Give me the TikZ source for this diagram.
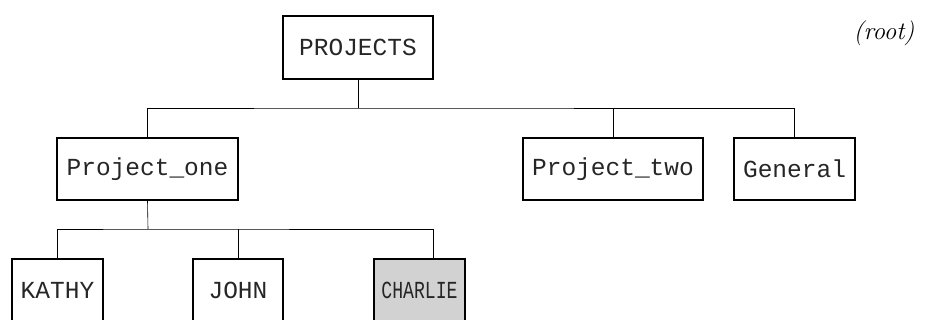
\documentclass[tikz,border=0pt]{standalone}
\usepackage{fontspec}
\setmonofont{Liberation Mono}
\tikzset{
	dirbox/.style={draw, line width=1.6pt, minimum height=62pt, font=\ttfamily\fontsize{24.5}{24.5}\selectfont, text=black!85, inner sep=0pt},
	branch/.style={line width=0.6pt}
}
\begin{document}
\begin{tikzpicture}[x=1pt, y=-1pt]
		\useasboundingbox (0,0) rectangle (925,320);
		
		\node [dirbox, minimum width=150pt, minimum height=63pt] (root) at (358, 47.5) {PROJECTS};
		\node [font=\itshape\fontsize{25}{25}\selectfont] (rootlabel) at (884, 33) {(root)};
		
		\node [dirbox, minimum width=181pt] (one) at (147.5, 169) {Project\_one};
		\node [dirbox, minimum width=180pt] (two) at (613, 169) {Project\_two};
		\node [dirbox, minimum width=121pt] (general) at (794.5, 169) {General};
		
		\node [dirbox, minimum width=91pt] (kathy) at (57.5, 290) {KATHY};
		\node [dirbox, minimum width=90pt] (john) at (238, 290) {JOHN};
		\node [dirbox, minimum width=91pt, fill=gray!35] (charlie) at (419.5, 290) {\scalebox{0.74}[1]{CHARLIE}};
		
		\coordinate (rootbus) at (358, 108);
		\coordinate (onebus) at (148, 229);
		\coordinate (charlietop) at (433, 259);
		
		\draw [branch] (root.south) -- (rootbus);
		\draw [branch] (one.north) |- (rootbus) -| (general.north);
		\draw [branch] (two.north) -- (two.north |- rootbus);
		
		\draw [branch] (one.south) -- (onebus);
		\draw [branch] (kathy.north) |- (onebus) -| (charlietop);
		\draw [branch] (john.north) -- (john.north |- onebus);
		
		\end{tikzpicture}
\end{document}
